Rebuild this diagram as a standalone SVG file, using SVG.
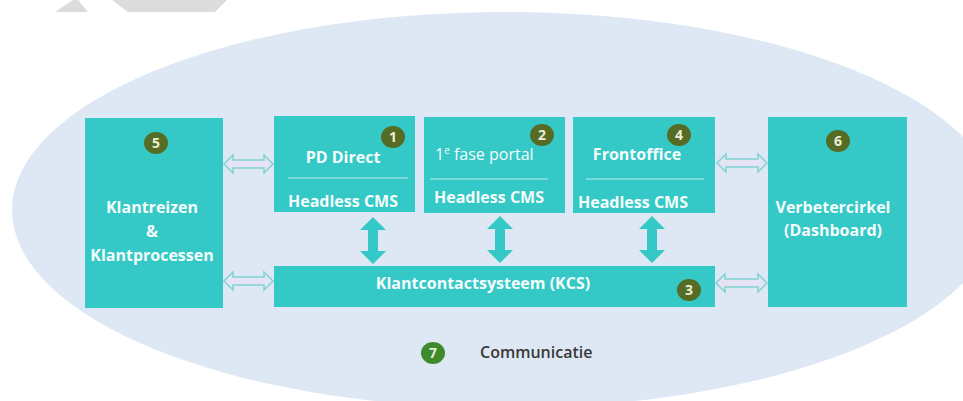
<svg xmlns="http://www.w3.org/2000/svg" width="963" height="401" viewBox="0 0 963 401">
  <style>
    .box { fill: #34c8c6; }
    .lbl { font-family: "Open Sans", "DejaVu Sans", sans-serif; font-size: 16px; font-weight: 700; fill: #f5fcfc; text-anchor: middle; }
    .reg { font-weight: 400; }
    .sep { stroke: #bfeeee; stroke-width: 1.2; }
    .badge { fill: #566b23; }
    .badge-green { fill: #3f8a2c; }
    .num { font-family: "Open Sans", "DejaVu Sans", sans-serif; font-size: 14px; font-weight: 700; fill: #ecedd8; text-anchor: middle; }
    .hollow { fill: #e6e4f4; stroke: #7fd4d2; stroke-width: 1.5; stroke-linejoin: miter; }
    .solid { fill: #34c8c6; }
    .deco { fill: #dcdcdc; }
  </style>

  <!-- faint grey shapes clipped at the top edge -->
  <polygon class="deco" points="55,12 73,0 78,0 88,12"/>
  <polygon class="deco" points="112,0 128,12 215,12 227,0"/>

  <!-- background ellipse -->
  <ellipse cx="505" cy="210" rx="493" ry="198" fill="#dee8f5"/>

  <g id="connectors">
    <!-- hollow double arrows, left side -->
    <path class="hollow" d="M224,164 L233,155 L233,160 L264,160 L264,155 L273,164 L264,173 L264,168 L233,168 L233,173 Z"/>
    <path class="hollow" d="M224,281 L233,272 L233,277 L264,277 L264,272 L273,281 L264,290 L264,285 L233,285 L233,290 Z"/>
    <!-- hollow double arrows, right side -->
    <path class="hollow" d="M717,163 L726,154 L726,159 L758,159 L758,154 L767,163 L758,172 L758,167 L726,167 L726,172 Z"/>
    <path class="hollow" d="M716,283 L725,274 L725,279 L758,279 L758,274 L767,283 L758,292 L758,287 L725,287 L725,292 Z"/>
    <!-- solid vertical double arrows -->
    <path class="solid" d="M373,217 L386,230 L378,230 L378,251 L386,251 L373,264 L360,251 L368,251 L368,230 L360,230 Z"/>
    <path class="solid" d="M500,216 L513,229 L505,229 L505,250 L513,250 L500,263 L487,250 L495,250 L495,229 L487,229 Z"/>
    <path class="solid" d="M652,216 L665,229 L657,229 L657,250 L665,250 L652,263 L639,250 L647,250 L647,229 L639,229 Z"/>
  </g>

  <g id="klantreizen">
    <rect class="box" x="85" y="118" width="138" height="190"/>
    <ellipse class="badge" cx="156" cy="143" rx="12" ry="11"/>
    <text class="num" x="156" y="148">5</text>
    <text class="lbl" x="152" y="213">Klantreizen</text>
    <text class="lbl" x="152" y="237">&amp;</text>
    <text class="lbl" x="152" y="261">Klantprocessen</text>
  </g>

  <g id="pd-direct">
    <rect class="box" x="274" y="116" width="141" height="96"/>
    <ellipse class="badge" cx="393" cy="137" rx="12" ry="11"/>
    <text class="num" x="393" y="142">1</text>
    <text class="lbl" x="343" y="163">PD Direct</text>
    <line class="sep" x1="288" y1="178" x2="408" y2="178"/>
    <text class="lbl" x="343" y="207">Headless CMS</text>
  </g>

  <g id="fase-portal">
    <rect class="box" x="424" y="117" width="141" height="96"/>
    <ellipse class="badge" cx="542" cy="135" rx="12" ry="11"/>
    <text class="num" x="542" y="140">2</text>
    <text class="lbl reg" x="435" y="160" style="text-anchor:start">1<tspan font-size="10" dy="-6">e</tspan><tspan dy="6"> fase portal</tspan></text>
    <line class="sep" x1="430" y1="179" x2="548" y2="179"/>
    <text class="lbl" x="489" y="203">Headless CMS</text>
  </g>

  <g id="frontoffice">
    <rect class="box" x="573" y="117" width="142" height="96"/>
    <ellipse class="badge" cx="679" cy="135" rx="12" ry="11"/>
    <text class="num" x="679" y="140">4</text>
    <text class="lbl" x="637" y="160">Frontoffice</text>
    <line class="sep" x1="586" y1="179" x2="704" y2="179"/>
    <text class="lbl" x="633" y="208">Headless CMS</text>
  </g>

  <g id="kcs">
    <rect class="box" x="274" y="266" width="441" height="41"/>
    <text class="lbl" x="483" y="289">Klantcontactsysteem (KCS)</text>
    <ellipse class="badge" cx="689" cy="290" rx="12" ry="11"/>
    <text class="num" x="689" y="295">3</text>
  </g>

  <g id="verbetercirkel">
    <rect class="box" x="768" y="117" width="139" height="190"/>
    <ellipse class="badge" cx="838" cy="141" rx="12" ry="11"/>
    <text class="num" x="838" y="146">6</text>
    <text class="lbl" x="833" y="213">Verbetercirkel</text>
    <text class="lbl" x="833" y="236">(Dashboard)</text>
  </g>

  <g id="communicatie">
    <ellipse class="badge-green" cx="433" cy="353" rx="12" ry="11"/>
    <text class="num" x="433" y="358">7</text>
    <text x="480" y="358" font-family="'Open Sans', 'DejaVu Sans', sans-serif" font-size="16" font-weight="600" fill="#383838">Communicatie</text>
  </g>
</svg>
